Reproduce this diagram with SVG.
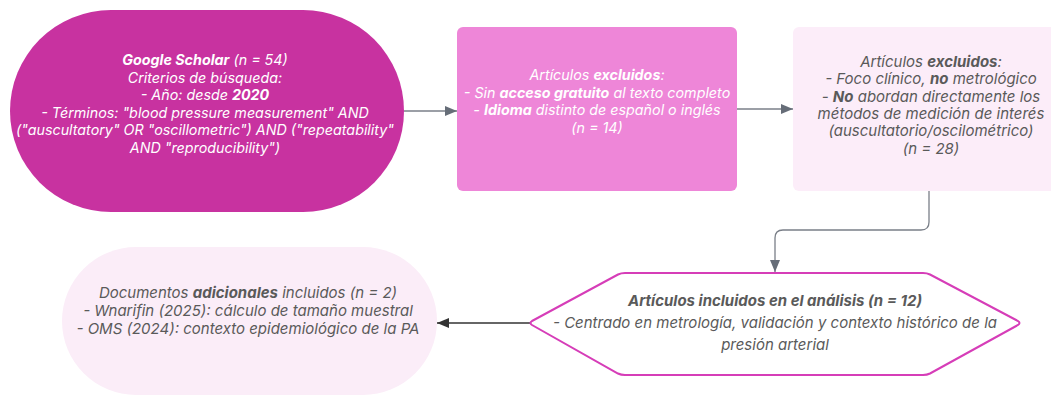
<svg xmlns="http://www.w3.org/2000/svg" width="1051" height="397" viewBox="0 0 1051 397">
<defs>
<style>
text{font-family:Inter,"Noto Sans","Liberation Sans",sans-serif;font-style:italic;font-size:14.3px;text-anchor:middle}
.w{fill:#ffffff}
.g{fill:#5a5a5a}
.lg{font-size:15px}
.b{font-weight:700}
.conn{fill:none;stroke:#7a7f88;stroke-width:1.3}
.dark{fill:none;stroke:#333333;stroke-width:1.3}
</style>
<marker id="ah" viewBox="0 0 12 10" refX="12" refY="5" markerWidth="12" markerHeight="10" markerUnits="userSpaceOnUse" orient="auto">
<path d="M0,0 L12,5 L0,10 z" fill="#666d78"/>
</marker>
<marker id="ahd" viewBox="0 0 12 10" refX="12" refY="5" markerWidth="12" markerHeight="10" markerUnits="userSpaceOnUse" orient="auto">
<path d="M0,0 L12,5 L0,10 z" fill="#333333"/>
</marker>
</defs>
<rect width="1051" height="397" fill="#ffffff"/>

<g id="connectors">
<path class="conn" d="M404,111 L457,111" marker-end="url(#ah)"/>
<path class="conn" d="M737,109 L793,109" marker-end="url(#ah)"/>
<path class="conn" d="M929,191 L929,222 Q929,230 921,230 L783,230 Q775,230 775,238 L775,272" marker-end="url(#ah)"/>
<path class="dark" d="M530,323 L437,323" marker-end="url(#ahd)"/>
</g>

<g id="node-google-scholar">
<rect x="10" y="10" width="394" height="202" rx="101" ry="101" fill="#c832a0"/>
<text class="w" x="205" y="65"><tspan class="b">Google Scholar</tspan> (n = 54)</text>
<text class="w" x="205" y="82.5">Criterios de búsqueda:</text>
<text class="w" x="205" y="100">- Año: desde <tspan class="b">2020</tspan></text>
<text class="w" x="205" y="117.5">- Términos: "blood pressure measurement" AND</text>
<text class="w" x="205" y="135">("auscultatory" OR "oscillometric") AND ("repeatability"</text>
<text class="w" x="205" y="152.5">AND "reproducibility")</text>
</g>

<g id="node-excluidos-1">
<rect x="457" y="27" width="280" height="164" rx="6" ry="6" fill="#ee86d8"/>
<text class="w" x="597" y="80">Artículos <tspan class="b">excluidos</tspan>:</text>
<text class="w" x="597" y="97.5">- Sin <tspan class="b">acceso gratuito</tspan> al texto completo</text>
<text class="w" x="597" y="115">- <tspan class="b">Idioma</tspan> distinto de español o inglés</text>
<text class="w" x="597" y="132.5">(n = 14)</text>
</g>

<g id="node-excluidos-2">
<rect x="793" y="27" width="276" height="164" rx="6" ry="6" fill="#fcedf9"/>
<text class="g lg" x="931" y="67">Artículos <tspan class="b">excluidos</tspan>:</text>
<text class="g lg" x="931" y="84.3">- Foco clínico, <tspan class="b">no</tspan> metrológico</text>
<text class="g lg" x="931" y="101.6">- <tspan class="b">No</tspan> abordan directamente los</text>
<text class="g lg" x="931" y="118.9">métodos de medición de interés</text>
<text class="g lg" x="931" y="136.2">(auscultatorio/oscilométrico)</text>
<text class="g lg" x="931" y="153.5">(n = 28)</text>
</g>

<g id="node-incluidos">
<path d="M532,321 L618,274.5 Q621,273 625,273 L923,273 Q927,273 930,274.5 L1018,321 Q1021,323 1018,325 L930,373.5 Q927,375 923,375 L625,375 Q621,375 618,373.5 L532,325 Q529,323 532,321 Z" fill="#ffffff" stroke="#d63db8" stroke-width="2"/>
<text class="g lg b" x="775" y="305.5" fill="#4f4f4f">Artículos incluidos en el análisis (n = 12)</text>
<text class="g lg" x="775" y="327.5">- Centrado en metrología, validación y contexto histórico de la</text>
<text class="g lg" x="775" y="349.5">presión arterial</text>
</g>

<g id="node-adicionales">
<rect x="62" y="247" width="375" height="148" rx="74" ry="74" fill="#fbedf8"/>
<text class="g lg" x="248" y="297.5">Documentos <tspan class="b">adicionales</tspan> incluidos (n = 2)</text>
<text class="g lg" x="248" y="315.5">- Wnarifin (2025): cálculo de tamaño muestral</text>
<text class="g lg" x="248" y="333.5">- OMS (2024): contexto epidemiológico de la PA</text>
</g>
</svg>
